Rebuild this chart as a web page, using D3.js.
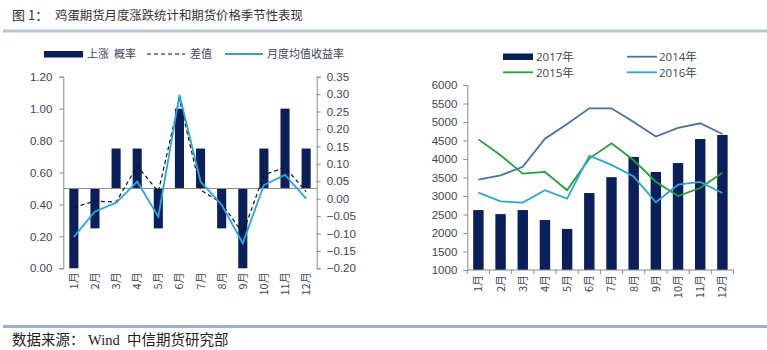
<!DOCTYPE html>
<html><head><meta charset="utf-8">
<script src="https://cdn.jsdelivr.net/npm/d3@7"></script>
<style>
body{margin:0;background:#fff;}
svg{display:block;font-family:"Open Sans","Noto Sans CJK SC",sans-serif;}
text{white-space:pre;}
</style></head>
<body>
<svg id="c" width="767" height="350"></svg>
<script>
// ---------- data ----------
const months = ["1月","2月","3月","4月","5月","6月","7月","8月","9月","10月","11月","12月"];
// left chart
const upProb = [0, 0.25, 0.75, 0.75, 0.25, 1.0, 0.75, 0.25, 0, 0.75, 1.0, 0.75];
const diffVal = [-0.025, -0.007, -0.01, 0.094, 0.02, 0.285, 0.025, -0.013, -0.10, 0.068, 0.09, 0.02];
const meanRet = [-0.11, -0.037, -0.012, 0.049, -0.052, 0.298, 0.049, -0.018, -0.128, 0.039, 0.068, 0.0];
const leftTicks = [0, 0.2, 0.4, 0.6, 0.8, 1.0, 1.2];
const rightTicks = [-0.2, -0.15, -0.1, -0.05, 0, 0.05, 0.1, 0.15, 0.2, 0.25, 0.3, 0.35];
// right chart
const price2017 = [2620, 2510, 2620, 2350, 2110, 3080, 3510, 4055, 3650, 3890, 4540, 4650];
const price2014 = [3440, 3560, 3790, 4550, 4945, 5370, 5370, 5000, 4605, 4840, 4965, 4675];
const price2015 = [4530, 4100, 3605, 3650, 3160, 4010, 4425, 3965, 3385, 3000, 3215, 3630];
const price2016 = [3090, 2855, 2820, 3155, 2930, 4090, 3840, 3525, 2830, 3305, 3380, 3080];
const priceTicks = [1000,1500,2000,2500,3000,3500,4000,4500,5000,5500,6000];

const NAVY = "#0b1f5b", LBLUE = "#2aa6dc", SBLUE = "#4a70a8", GREEN = "#21a13a";
const TXT = "#3f4459", AX = "#8a8a8a";

const svg = d3.select("#c");

// ---------- frame ----------
svg.append("text").attr("x",12).attr("y",20).attr("font-size",13).attr("fill","#333")
  .attr("font-family","'Noto Sans CJK SC',sans-serif").text("图 1：");
svg.append("text").attr("x",55).attr("y",20).attr("font-size",12.4).attr("fill","#333")
  .attr("font-family","'Noto Sans CJK SC',sans-serif").text("鸡蛋期货月度涨跌统计和期货价格季节性表现");
svg.append("rect").attr("x",3).attr("y",29.5).attr("width",764).attr("height",3).attr("fill","#b6c7d9");
svg.append("rect").attr("x",3).attr("y",325).attr("width",764).attr("height",3).attr("fill","#9ab0cd");
svg.append("text").attr("x",12).attr("y",345).attr("font-size",14.5).attr("fill","#222")
  .attr("font-family","'Liberation Serif','Noto Sans CJK SC',serif").text("数据来源： Wind  中信期货研究部");

// ---------- left chart ----------
const L = {x0:63.3, x1:316.7, y0:268.3, y1:76.7};
const xL = d3.scaleBand().domain(months).range([L.x0, L.x1]).paddingInner(0.57).paddingOuter(0.285);
const yL = d3.scaleLinear().domain([0,1.2]).range([L.y0, L.y1]);
const yR = d3.scaleLinear().domain([-0.2,0.35]).range([L.y0, L.y1]);
const fmt2 = d3.format(".2f");

const gL = svg.append("g").attr("font-size",11);
const axL = gL.append("g").attr("transform",`translate(${L.x0},0)`)
  .call(d3.axisLeft(yL).tickValues(leftTicks).tickFormat(fmt2).tickSize(4).tickPadding(7));
const axR = gL.append("g").attr("transform",`translate(${L.x1},0)`)
  .call(d3.axisRight(yR).tickValues(rightTicks).tickFormat(fmt2).tickSize(4).tickPadding(6));
[axL, axR].forEach(a=>{
  a.select(".domain").attr("stroke",AX);
  a.selectAll(".tick line").attr("stroke",AX);
  a.selectAll("text").attr("fill",TXT).attr("font-size",11.5);
});

gL.selectAll("rect.bar").data(upProb).join("rect").attr("class","bar")
  .attr("x",(d,i)=>xL(months[i]))
  .attr("width",xL.bandwidth())
  .attr("y",d=>Math.min(yL(d),yL(0.5)))
  .attr("height",d=>Math.abs(yL(d)-yL(0.5)))
  .attr("fill",NAVY);

// baseline axis at 0.5
gL.append("line").attr("x1",L.x0).attr("x2",L.x1).attr("y1",yL(0.5)).attr("y2",yL(0.5)).attr("stroke",AX);

const cx = (i)=>xL(months[i])+xL.bandwidth()/2;
const lineR = d3.line().x((d,i)=>cx(i)).y(d=>yR(d));
gL.append("path").datum(diffVal).attr("d",lineR).attr("fill","none")
  .attr("stroke","#111").attr("stroke-width",1.2).attr("stroke-dasharray","4,3");
gL.append("path").datum(meanRet).attr("d",lineR).attr("fill","none")
  .attr("stroke",LBLUE).attr("stroke-width",1.8);

// x labels (rotated)
gL.selectAll("text.xl").data(months).join("text").attr("class","xl")
  .attr("transform",d=>`translate(${xL(d)+xL.bandwidth()/2+4},${L.y0+4}) rotate(-90)`)
  .attr("text-anchor","end").attr("font-size",11).attr("fill",TXT)
  .attr("font-family","'Noto Sans CJK SC',sans-serif").text(d=>d);

// left legend
const lg = svg.append("g").attr("font-size",11).attr("fill",TXT).attr("font-family","'Noto Sans CJK SC',sans-serif");
lg.append("rect").attr("x",44).attr("y",51).attr("width",39).attr("height",6.5).attr("fill",NAVY);
lg.append("text").attr("x",87).attr("y",58).text("上涨  概率");
lg.append("line").attr("x1",147).attr("x2",185).attr("y1",54).attr("y2",54).attr("stroke","#111").attr("stroke-width",1.2).attr("stroke-dasharray","4,3");
lg.append("text").attr("x",190).attr("y",58).text("差值");
lg.append("line").attr("x1",225).attr("x2",263).attr("y1",54).attr("y2",54).attr("stroke",LBLUE).attr("stroke-width",1.8);
lg.append("text").attr("x",267).attr("y",58).text("月度均值收益率");

// ---------- right chart ----------
const R = {x0:467.3, x1:733.5, y0:270, y1:85};
const xP = d3.scaleBand().domain(months).range([R.x0, R.x1]).paddingInner(0.53).paddingOuter(0.265);
const yP = d3.scaleLinear().domain([1000,6000]).range([R.y0, R.y1]);
const gR = svg.append("g");
const axP = gR.append("g").attr("transform",`translate(${R.x0},0)`)
  .call(d3.axisLeft(yP).tickValues(priceTicks).tickFormat(d3.format("d")).tickSize(4).tickPadding(6));
axP.select(".domain").attr("stroke",AX);
axP.selectAll(".tick line").attr("stroke",AX);
axP.selectAll("text").attr("fill",TXT).attr("font-size",11.5);

gR.selectAll("rect").data(price2017).join("rect")
  .attr("x",(d,i)=>xP(months[i])).attr("width",xP.bandwidth())
  .attr("y",d=>yP(d)).attr("height",d=>yP(1000)-yP(d)).attr("fill",NAVY);

// x axis with ticks at band boundaries
const step = xP.step();
gR.append("line").attr("x1",R.x0).attr("x2",R.x1).attr("y1",R.y0).attr("y2",R.y0).attr("stroke",AX);
gR.selectAll("line.bt").data(d3.range(13)).join("line").attr("class","bt")
  .attr("x1",i=>R.x0+i*step).attr("x2",i=>R.x0+i*step)
  .attr("y1",R.y0).attr("y2",R.y0+4).attr("stroke",AX);

const pcx = (i)=>xP(months[i])+xP.bandwidth()/2;
const lineP = d3.line().x((d,i)=>pcx(i)).y(d=>yP(d));
[[price2014,SBLUE],[price2015,GREEN],[price2016,LBLUE]].forEach(([s,c])=>{
  gR.append("path").datum(s).attr("d",lineP).attr("fill","none").attr("stroke",c).attr("stroke-width",1.8);
});

gR.selectAll("text.xl").data(months).join("text").attr("class","xl")
  .attr("transform",d=>`translate(${xP(d)+xP.bandwidth()/2+4},${R.y0+5}) rotate(-90)`)
  .attr("text-anchor","end").attr("font-size",11).attr("fill",TXT)
  .attr("font-family","'Noto Sans CJK SC',sans-serif").text(d=>d);

// right legend
const rg = svg.append("g").attr("font-size",11.5).attr("fill",TXT);
rg.append("rect").attr("x",503).attr("y",53.5).attr("width",30).attr("height",6.5).attr("fill",NAVY);
rg.append("text").attr("x",536).attr("y",61).text("2017年");
rg.append("line").attr("x1",627).attr("x2",657).attr("y1",56.7).attr("y2",56.7).attr("stroke",SBLUE).attr("stroke-width",1.8);
rg.append("text").attr("x",659).attr("y",61).text("2014年");
rg.append("line").attr("x1",503).attr("x2",533).attr("y1",72.3).attr("y2",72.3).attr("stroke",GREEN).attr("stroke-width",1.8);
rg.append("text").attr("x",536).attr("y",76.5).text("2015年");
rg.append("line").attr("x1",627).attr("x2",657).attr("y1",72.3).attr("y2",72.3).attr("stroke",LBLUE).attr("stroke-width",1.8);
rg.append("text").attr("x",659).attr("y",76.5).text("2016年");
</script>
</body></html>
